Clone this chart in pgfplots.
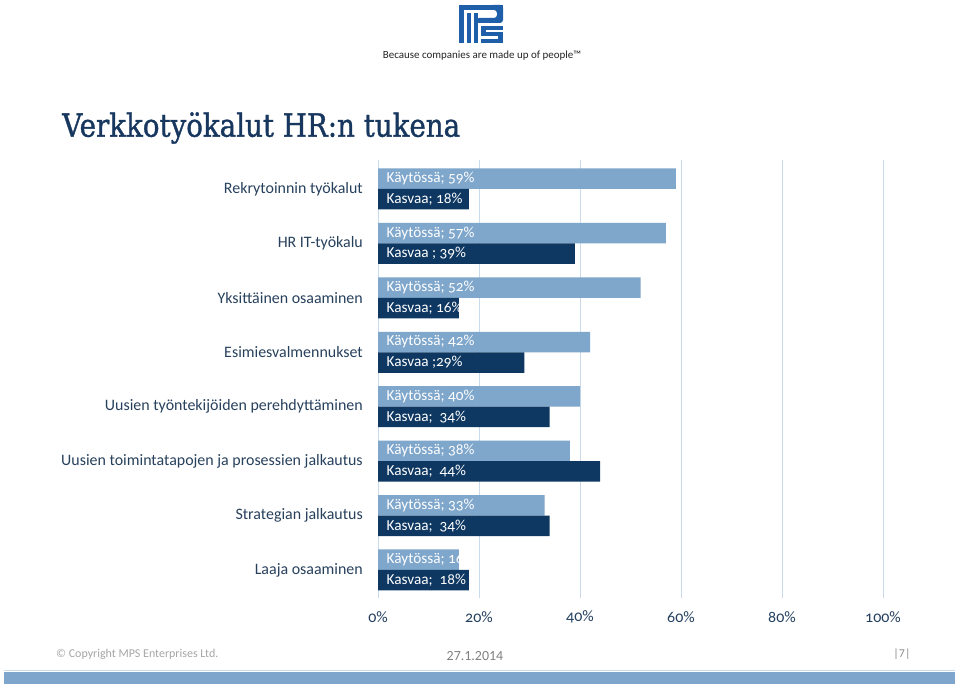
\documentclass[border=0pt]{standalone}
\usepackage{pgfplots}
\pgfplotsset{compat=1.18}
\usepackage{fontspec}
\setmainfont{Carlito}
\newfontfamily\titlefont{DejaVu Serif}[FakeBold=1.2]
\newfontfamily\numfont{Carlito}[Numbers=OldStyle]
\protected\def\semi{;}
\definecolor{kay}{HTML}{7FA6CB}
\definecolor{kas}{HTML}{0E3862}
\definecolor{gridc}{HTML}{C9DAEC}
\definecolor{labc}{HTML}{27405C}
\definecolor{tickc}{HTML}{24405F}
\definecolor{titlec}{HTML}{17375E}
\definecolor{logoc}{HTML}{1F5EA8}
\definecolor{footbar}{HTML}{7EA6CC}
\begin{document}
\begin{tikzpicture}[x=1bp,y=1bp]
\useasboundingbox (0,0) rectangle (960,686);
\fill[white] (0,0) rectangle (960,686);
\begin{scope}[shift={(0,686)},yscale=-1]
 % logo
 \fill[logoc] (459,5) rectangle (503,10);
 \fill[logoc,rounded corners=3] (490,5) -- (503,5) -- (503,23) -- (476,23) -- (476,18) -- (497,18) -- (497,10) -- (490,10) -- cycle;
 \fill[logoc] (459,10) rectangle (464,43);
 \fill[logoc] (467,13) rectangle (471,43);
 \fill[logoc] (474,13) rectangle (478,43);
 \fill[logoc] (481,26) rectangle (503,30);
 \fill[logoc] (481,26) rectangle (486,36);
 \fill[logoc] (481,32) rectangle (503,36);
 \fill[logoc] (498,32) rectangle (503,43);
 \fill[logoc] (481,39) rectangle (503,43);
 \node[font=\fontsize{11}{13}\selectfont, text=black!85] at (482,56) {Because companies are made up of people™};
 % title
 \node[anchor=west, inner sep=0, text=titlec] at (62,128) {\scalebox{1}[1.15]{\resizebox{398bp}{!}{\titlefont\fontsize{28}{32}\selectfont Verkkotyökalut HR:n tukena}}};
 % footer
 \node[anchor=west, inner sep=0, text=black!35, font=\fontsize{12}{14}\selectfont] at (56,654) {© Copyright MPS Enterprises Ltd.};
 \node[inner sep=0, text=black!50, font=\fontsize{14}{16}\selectfont] at (475,656) {27.1.2014};
 \node[inner sep=0, text=black!45, font=\fontsize{12}{14}\selectfont] at (902,654) {|7|};
 \draw[gridc, line width=1bp] (4,671) -- (955,671);
 \fill[footbar] (4,672) rectangle (955,684);
\end{scope}
\begin{axis}[at={(378bp,88bp)}, anchor=south west, scale only axis,
  width=505bp, height=438bp,
  xmin=0, xmax=100, ymin=-0.515, ymax=7.533,
  axis line style={draw=none},
  xmajorgrids, grid style={gridc, line width=1bp},
  major tick length=0,
  xtick={0,20,40,60,80,100},
  xticklabels={0\%,20\%,40\%,60\%,80\%,100\%},
  xticklabel style={font=\numfont\fontsize{16}{18}\selectfont, text=tickc, anchor=center, yshift=-19bp},
  ytick={0,1,2,3,4,5,6,7},
  yticklabels={Laaja osaaminen, Strategian jalkautus, Uusien toimintatapojen ja prosessien jalkautus, Uusien työntekijöiden perehdyttäminen, Esimiesvalmennukset, Yksittäinen osaaminen, HR IT-työkalu, Rekrytoinnin työkalut},
  yticklabel style={font=\fontsize{16}{18}\selectfont, text=labc, anchor=east, inner sep=0, xshift=-15bp},
  clip=false]
\addplot[xbar, bar width=20.5bp, bar shift=10.25bp, fill=kay, draw=none]
  coordinates {(59,7) (57,6) (52,5) (42,4) (40,3) (38,2) (33,1) (16,0)};
\addplot[xbar, bar width=20.5bp, bar shift=-10.25bp, fill=kas, draw=none]
  coordinates {(18,7) (39,6) (16,5) (29,4) (34,3) (44,2) (34,1) (18,0)};
\addplot[only marks, mark=*, mark size=0pt, mark options={draw=none,fill=none},
  nodes near coords, point meta=explicit symbolic,
  every node near coord/.style={anchor=west, inner sep=0, text=white, font=\numfont\fontsize{15.3}{17}\selectfont, xshift=8.5bp, yshift=10.25bp}]
  coordinates {(0,7) [Käytössä\semi{} 59\%] (0,6) [Käytössä\semi{} 57\%] (0,5) [Käytössä\semi{} 52\%] (0,4) [Käytössä\semi{} 42\%] (0,3) [Käytössä\semi{} 40\%] (0,2) [Käytössä\semi{} 38\%] (0,1) [Käytössä\semi{} 33\%] (0,0) [Käytössä\semi{} 16\%]};
\addplot[only marks, mark=*, mark size=0pt, mark options={draw=none,fill=none},
  nodes near coords, point meta=explicit symbolic,
  every node near coord/.style={anchor=west, inner sep=0, text=white, font=\numfont\fontsize{15.3}{17}\selectfont, xshift=8.5bp, yshift=-10.25bp}]
  coordinates {(0,7) [Kasvaa\semi{} 18\%] (0,6) [Kasvaa \semi{} 39\%] (0,5) [Kasvaa\semi{} 16\%] (0,4) [Kasvaa \semi29\%] (0,3) [Kasvaa\semi\ \ 34\%] (0,2) [Kasvaa\semi\ \ 44\%] (0,1) [Kasvaa\semi\ \ 34\%] (0,0) [Kasvaa\semi\ \ 18\%]};
\end{axis}
\end{tikzpicture}
\end{document}
